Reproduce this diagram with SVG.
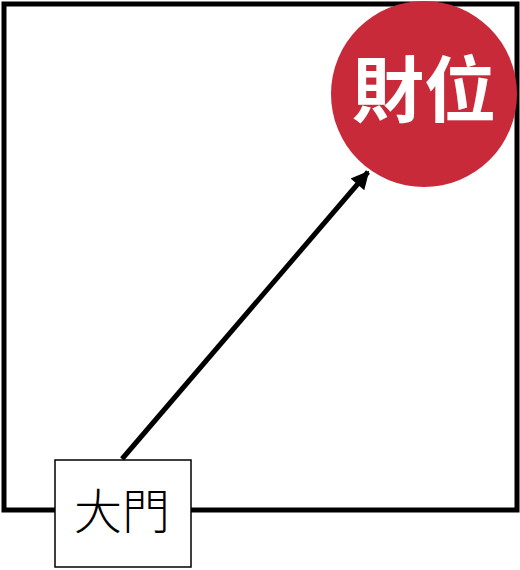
<svg xmlns="http://www.w3.org/2000/svg" width="520" height="570" viewBox="0 0 520 570">
  <style>
    .frame { fill: none; stroke: #000; stroke-width: 5; }
    .conn { stroke: #000; stroke-width: 5; fill: none; }
    .lbl-w { font-family: "Noto Sans CJK TC", "Noto Sans CJK SC", sans-serif; font-weight: bold; fill: #fff; }
    .lbl-b { font-family: "Noto Sans CJK TC", "Noto Sans CJK SC", sans-serif; font-weight: 300; fill: #000; }
  </style>
  <defs>
    <marker id="arrow" viewBox="0 0 10 10" refX="9" refY="5" markerWidth="4.4" markerHeight="3.6" markerUnits="strokeWidth" orient="auto">
      <path d="M0,0 L10,5 L0,10 Z" fill="#000"/>
    </marker>
  </defs>
  <rect width="520" height="570" fill="#fff"/>
  <g id="room">
    <rect class="frame" x="4" y="4" width="513" height="506"/>
  </g>
  <g id="connectors">
    <line class="conn" x1="122" y1="459" x2="368" y2="172" marker-end="url(#arrow)"/>
  </g>
  <g id="wealth">
    <circle cx="424" cy="94" r="93" fill="#C82A3A"/>
    <text class="lbl-w" x="424" y="84" font-size="72" text-anchor="middle" dominant-baseline="central">財位</text>
  </g>
  <g id="door">
    <rect x="55" y="460" width="136" height="107" fill="#fff" stroke="#000" stroke-width="1.5"/>
    <text class="lbl-b" x="122" y="508" font-size="48" text-anchor="middle" dominant-baseline="central">大門</text>
  </g>
</svg>
